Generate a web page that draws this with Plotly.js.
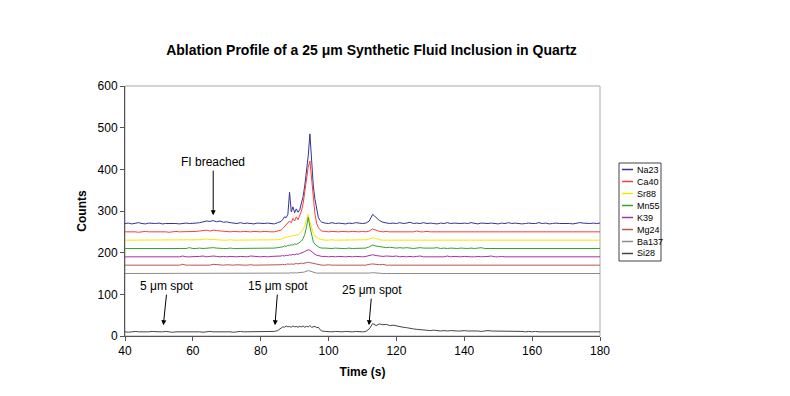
<!DOCTYPE html>
<html><head><meta charset="utf-8">
<script src="https://cdn.plot.ly/plotly-3.0.1.min.js"></script>
<style>html,body{margin:0;padding:0;background:#fff}#chart{width:790px;height:396px}</style>
</head><body><div id="chart"></div>
<script>
var time = [
40,41,42,43,44,45,46,47,48,49,
50,51,52,53,54,55,56,57,58,59,
60,61,62,63,64,65,66,67,68,69,
70,71,72,73,74,75,76,77,78,79,
80,81,82,83,84,85,
86,86.5,87,87.5,88,88.5,89,89.5,90,90.5,
91,91.5,92,92.5,93,93.5,94,94.5,95,95.5,
96,96.5,97,97.5,98,
99,100,101,102,103,104,105,106,107,108,
109,110,111,112,113,114,115,116,117,118,
119,120,121,122,123,124,125,126,127,128,
129,130,131,132,133,134,135,136,137,138,
139,140,141,142,143,144,145,146,147,148,
149,150,151,152,153,154,155,156,157,158,
159,160,161,162,163,164,165,166,167,168,
169,170,171,172,173,174,175,176,177,178,
179,180];

var na23 = [
270,271,269,270,272,270,269,271,270,270,
271,269,270,270,271,270,269,270,271,270,
270,271,272,274,276,275,277,274,276,273,
274,272,271,270,272,270,271,270,269,271,
270,270,271,270,269,272,
275,280,286,284,292,345,298,310,296,305,
297,303,318,335,362,392,432,485,418,360,
328,300,284,277,273,
271,270,272,270,271,270,269,271,270,272,
271,270,271,276,292,284,277,273,271,270,
271,270,272,270,271,273,270,271,270,272,
270,271,270,269,271,270,272,270,271,270,
270,271,270,272,270,269,271,270,270,271,
270,269,271,270,272,270,271,270,269,270,
271,270,270,272,270,271,269,270,271,270,
270,271,270,269,270,272,271,270,270,271,
270,271];

var ca40 = [
250,250,251,250,249,250,251,250,250,250,
251,250,250,249,250,251,250,250,250,251,
250,251,252,253,254,252,254,253,252,251,
251,250,251,250,250,251,250,250,251,250,
250,251,250,250,250,252,
254,258,262,266,270,276,272,282,276,286,
279,290,300,318,345,378,405,420,380,330,
292,270,260,255,252,
251,250,251,250,250,251,250,250,251,250,
250,251,250,252,257,254,251,250,251,250,
250,251,250,250,251,250,250,252,250,250,
251,250,250,250,251,250,250,250,251,250,
250,251,250,250,250,251,250,250,250,251,
250,250,251,250,250,250,251,250,250,250,
251,250,250,250,251,250,250,250,251,250,
250,251,250,250,250,250,251,250,250,250,
251,250];

var sr88 = [
230,230,231,230,230,230,230,231,230,230,
230,230,230,231,230,230,230,230,230,231,
230,230,231,232,233,231,232,231,230,230,
230,231,230,230,230,230,231,230,230,230,
230,230,231,230,230,231,
232,234,236,238,237,240,239,242,240,243,
242,246,250,256,265,278,292,275,258,246,
240,236,234,232,231,
230,230,231,230,230,230,231,230,230,230,
230,230,231,233,236,234,231,230,230,231,
230,230,230,230,231,230,230,230,230,230,
231,230,230,230,230,230,231,230,230,230,
230,230,230,231,230,230,230,230,230,231,
230,230,230,230,230,231,230,230,230,230,
230,231,230,230,230,230,230,231,230,230,
230,230,230,231,230,230,230,230,230,230,
231,230];

var mn55 = [
210,210,211,210,210,210,211,210,210,210,
210,211,210,210,210,210,210,211,210,212,
210,210,211,210,211,212,212,211,210,210,
210,211,210,210,211,210,210,210,211,210,
210,210,211,210,211,212,
213,214,216,215,218,217,219,218,221,220,
222,224,228,234,244,262,285,262,240,226,
220,216,214,212,211,
211,210,210,211,210,210,210,211,210,210,
210,210,211,214,218,216,215,213,212,213,
212,211,212,211,212,211,210,211,212,211,
211,210,211,212,210,211,210,211,210,210,
211,210,210,211,210,211,212,210,210,210,
211,210,210,210,211,210,210,210,210,211,
210,210,211,210,210,210,210,211,210,210,
210,211,210,210,210,210,210,210,211,210,
210,210];

var k39 = [
190,190,191,190,190,191,190,190,191,190,
190,191,190,190,190,191,190,192,190,190,
190,191,191,192,190,191,192,191,190,191,
190,191,190,190,191,190,190,192,191,190,
190,191,190,191,191,192,
192,193,192,194,193,195,194,196,195,197,
196,198,199,201,203,205,207,206,202,198,
196,194,193,192,191,
191,190,191,190,191,190,190,191,190,191,
190,190,191,193,195,193,192,191,192,191,
191,192,190,191,190,191,190,191,192,190,
190,191,190,191,190,190,192,190,191,190,
190,191,190,190,190,191,190,190,191,192,
190,190,191,190,190,191,190,190,190,191,
190,190,191,190,190,190,191,190,190,190,
191,190,190,190,191,190,190,190,190,191,
190,190];

var mg24 = [
170,170,170,171,170,170,170,170,171,170,
170,170,170,170,171,170,170,172,170,170,
170,170,171,170,171,170,172,171,170,170,
171,170,170,171,170,170,170,171,170,170,
170,170,171,170,170,171,
171,172,171,172,173,172,173,172,173,174,
173,174,175,174,175,176,177,176,175,174,
173,172,171,171,170,
170,171,170,170,170,171,170,170,170,171,
170,170,170,172,173,172,171,172,170,170,
170,171,170,170,170,170,171,170,170,170,
170,170,171,170,170,170,170,171,170,170,
171,170,170,170,170,171,170,170,170,170,
170,170,171,170,170,170,170,170,171,170,
170,170,170,170,171,170,170,170,170,170,
171,170,170,170,170,170,170,171,170,170,
170,170];

var ba137 = [
150,150,150,150,150,150,150,150,150,150,
150,150,150,150,150,150,150,150,150,150,
150,150,150,150,150,151,150,150,151,150,
150,150,150,150,150,150,150,150,150,150,
150,150,150,150,150,151,
150,151,150,151,151,151,152,151,152,151,
152,152,153,153,154,155,157,156,154,153,
152,151,151,150,150,
150,150,150,150,150,150,150,150,150,150,
150,150,150,151,152,151,150,150,150,150,
150,150,150,150,150,150,150,150,150,150,
150,150,150,150,150,150,150,150,150,150,
150,150,150,150,150,150,150,150,150,150,
150,150,150,150,150,150,150,150,150,150,
150,150,150,150,150,150,150,150,150,150,
150,150,150,150,150,150,150,150,150,150,
150,150];

var si28 = [
10,9,10,11,10,10,9,10,11,10,
10,10,11,10,9,10,10,11,10,10,
11,10,10,9,10,11,10,10,10,11,
10,10,9,10,11,10,10,10,11,10,
10,11,10,10,11,13,
20,22,21,24,22,23,21,24,22,23,
21,23,22,24,21,23,22,25,21,22,
23,20,21,15,12,
11,10,10,11,10,10,11,10,10,11,
10,10,11,17,30,25,29,27,28,25,
26,24,23,21,20,18,17,16,15,14,
14,13,14,13,12,13,12,13,12,12,
12,13,12,12,13,12,11,12,13,12,
12,11,12,11,12,11,11,12,11,10,
11,10,11,10,10,11,10,10,10,11,
10,10,11,10,10,10,11,10,10,10,
11,10];

var seriesNames = ['Na23','Ca40','Sr88','Mn55','K39','Mg24','Ba137','Si28'];
var seriesData = [na23, ca40, sr88, mn55, k39, mg24, ba137, si28];
var seriesColors = ['#333399','#ff3b3b','#f5e800','#33a333','#a333a8','#b95555','#8c8c8c','#444444'];

var xTicks = [40,60,80,100,120,140,160,180];
var yTicks = [0,100,200,300,400,500,600];

var notes = [
  {label:'FI breached', t:66, c:290, ax:0, ay:-53},
  {label:'5 \u03bcm spot', t:51.3, c:26, ax:4, ay:-39},
  {label:'15 \u03bcm spot', t:84.2, c:26, ax:3, ay:-39},
  {label:'25 \u03bcm spot', t:111.9, c:26, ax:3, ay:-35}
];

var FONT = 'Liberation Sans, Arial, sans-serif';

var traces = seriesNames.map(function(n,i){
  return {x: time, y: seriesData[i], name: n, type:'scatter', mode:'lines',
          line:{color: seriesColors[i], width:1}, showlegend:false};
});

// Compact legend (Excel-style), placed in paper coordinates beside the plot
var W = 475, H = 250, L = 125, B = 336;
function px(p){ return (p - L) / W; }
function py(p){ return (B - p) / H; }
var shapes = [{type:'rect', xref:'paper', yref:'paper', x0:0, x1:1, y0:0, y1:1,
               line:{color:'#aaaaaa', width:1}, layer:'below'},
              {type:'rect', xref:'paper', yref:'paper', x0:px(619), x1:px(661), y0:py(261), y1:py(163),
               line:{color:'#444', width:1}, fillcolor:'#fff', layer:'above'}];
var legendNotes = [];
seriesNames.forEach(function(n,i){
  var yy = 169.5 + 12*i;
  shapes.push({type:'line', xref:'paper', yref:'paper', x0:px(622), x1:px(633), y0:py(yy), y1:py(yy),
               line:{color:seriesColors[i], width:1.5}, layer:'above'});
  legendNotes.push({xref:'paper', yref:'paper', x:px(635), y:py(yy), xanchor:'left', yanchor:'middle',
                    text:n, showarrow:false, font:{size:9, color:'#000'}});
});

var layout = {
  width:790, height:396,
  margin:{l:125, r:190, t:86, b:60},
  paper_bgcolor:'#fff', plot_bgcolor:'#fff',
  font:{family:FONT, size:12, color:'#000'},
  title:{text:'Ablation Profile of a 25 \u03bcm Synthetic Fluid Inclusion in Quartz',
         font:{family:FONT, size:14, color:'#000', weight:'bold'},
         xref:'paper', x:0.519, xanchor:'center', yref:'container', y:0.874, yanchor:'middle'},
  xaxis:{range:[40,180], tickvals:xTicks, ticktext:xTicks.map(String), showgrid:false, zeroline:false,
         showline:true, linecolor:'#555', linewidth:1, ticks:'outside', ticklen:4, tickcolor:'#555',
         tickfont:{size:12}, title:{text:'Time (s)', font:{size:12, weight:'bold'}, standoff:10}},
  yaxis:{range:[0,600], tickvals:yTicks, ticktext:yTicks.map(String), showgrid:false, zeroline:false,
         showline:true, linecolor:'#555', linewidth:1, ticks:'outside', ticklen:4, tickcolor:'#555',
         tickfont:{size:12}, title:{text:'Counts', font:{size:12, weight:'bold'}, standoff:8}},
  showlegend:false,
  shapes: shapes,
  annotations: notes.map(function(a){
    return {x:a.t, y:a.c, xref:'x', yref:'y', text:a.label, showarrow:true,
            arrowhead:2, arrowsize:1, arrowwidth:1, arrowcolor:'#000',
            ax:a.ax, ay:a.ay, font:{size:12, color:'#000'}, standoff:0};
  }).concat(legendNotes)
};

Plotly.newPlot('chart', traces, layout, {displayModeBar:false, staticPlot:true});
</script>
</body></html>
